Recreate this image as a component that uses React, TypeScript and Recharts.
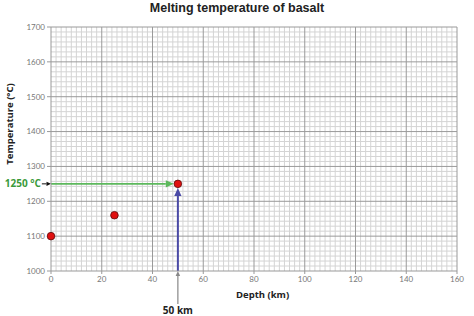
import { ScatterChart, Scatter, XAxis, YAxis, ReferenceLine } from "recharts"

const depthKm = [0, 25, 50]
const meltTempC = [1100, 1160, 1250]
const xTicks = [0, 20, 40, 60, 80, 100, 120, 140, 160]
const yTicks = [1000, 1100, 1200, 1300, 1400, 1500, 1600, 1700]
const readDepth = 50
const readTemp = 1250

const points = depthKm.map((d, i) => ({ depth: d, temp: meltTempC[i] }))

// graph-paper lines: 10 squares per 20 km, 7 squares per 100 °C
const minorX: number[] = []
for (let v = 2; v < 160; v += 2) if (v % 20 !== 0) minorX.push(v)
const minorY: number[] = []
for (let b = 1000; b < 1700; b += 100) for (let k = 1; k < 7; k++) minorY.push(b + (k * 100) / 7)

const W = 474
const H = 316

function arrowShape(color: string, width: number, head: number, label?: string, labelColor?: string) {
  return (p: any) => {
    const { x1, y1, x2, y2 } = p
    const dx = x2 - x1
    const dy = y2 - y1
    const len = Math.sqrt(dx * dx + dy * dy) || 1
    const ux = dx / len
    const uy = dy / len
    const bx = x2 - ux * head
    const by = y2 - uy * head
    const hw = head * 0.45
    const pts = `${x2},${y2} ${bx - uy * hw},${by + ux * hw} ${bx + uy * hw},${by - ux * hw}`
    return (
      <g>
        <line x1={x1} y1={y1} x2={bx} y2={by} stroke={color} strokeWidth={width} />
        <polygon points={pts} fill={color} />
        {label && dy === 0 && (
          <text x={x1 - 1} y={y1} dy={3.5} textAnchor="end" fontSize={10} fontWeight={700}
            fontFamily="'Open Sans', sans-serif" fill={labelColor}>{label}</text>
        )}
        {label && dx === 0 && (
          <text x={x1} y={y1} dy={10} textAnchor="middle" fontSize={10} fontWeight={700}
            fontFamily="'Open Sans', sans-serif" fill={labelColor}>{label}</text>
        )}
      </g>
    )
  }
}

const tickStyle = { fontSize: 8, fill: "#777", fontFamily: "Lato, sans-serif" }

export default function App() {
  return (
    <div style={{ position: "absolute", left: 0, top: 0, width: W, height: H, background: "#fff" }}>
      <div style={{ position: "absolute", left: 0, top: 1, width: W, textAlign: "center", fontFamily: "'Liberation Sans', sans-serif", fontWeight: 700, fontSize: 12.5, color: "#222" }}>
        Melting temperature of basalt
      </div>
      <div style={{ position: "absolute", left: 236, top: 288, fontFamily: "'Open Sans', sans-serif", fontWeight: 700, fontSize: 9.5, color: "#222" }}>
        Depth (km)
      </div>
      <div style={{ position: "absolute", left: 9, top: 124, transform: "translate(-50%, -50%) rotate(-90deg)", whiteSpace: "nowrap", fontFamily: "'Open Sans', sans-serif", fontWeight: 700, fontSize: 9.5, color: "#222" }}>
        Temperature (°C)
      </div>
      <ScatterChart width={W} height={H} margin={{ top: 27, right: 17, bottom: 0, left: 0 }}>
        <XAxis type="number" dataKey="depth" domain={[0, 160]} ticks={xTicks} interval={0}
          height={45} tick={tickStyle} tickSize={3} axisLine={{ stroke: "#999" }} tickLine={{ stroke: "#999" }} />
        <YAxis type="number" dataKey="temp" domain={[1000, 1700]} ticks={yTicks} interval={0}
          width={51} tick={tickStyle} tickSize={4} axisLine={{ stroke: "#999" }} tickLine={{ stroke: "#999" }} />
        {minorX.map((v) => (
          <ReferenceLine key={"mx" + v} x={v} stroke="#d4d4d4" strokeWidth={1} />
        ))}
        {minorY.map((v) => (
          <ReferenceLine key={"my" + v} y={v} stroke="#d4d4d4" strokeWidth={1} />
        ))}
        {xTicks.slice(1).map((v) => (
          <ReferenceLine key={"Mx" + v} x={v} stroke="#9a9a9a" strokeWidth={1} />
        ))}
        {yTicks.slice(1).map((v) => (
          <ReferenceLine key={"My" + v} y={v} stroke="#9a9a9a" strokeWidth={1} />
        ))}
        <ReferenceLine segment={[{ x: 0, y: readTemp }, { x: readDepth - 1.6, y: readTemp }]}
          ifOverflow="visible" shape={arrowShape("#5cb85c", 1.6, 8)} />
        <ReferenceLine segment={[{ x: readDepth, y: 1000 }, { x: readDepth, y: readTemp - 12 }]}
          ifOverflow="visible" shape={arrowShape("#4a4aa6", 2, 8)} />
        <ReferenceLine segment={[{ x: -3.6, y: readTemp }, { x: 0, y: readTemp }]}
          ifOverflow="visible" shape={arrowShape("#111", 1, 4.5, "1250 °C", "#3a9a3a")} />
        <ReferenceLine segment={[{ x: readDepth, y: 905 }, { x: readDepth, y: 1000 }]}
          ifOverflow="visible" shape={arrowShape("#888", 1.2, 5, "50 km", "#222")} />
        <Scatter data={points} isAnimationActive={false}
          shape={(p: any) => <circle cx={p.cx} cy={p.cy} r={3.8} fill="#e01010" stroke="#5a0a0a" strokeWidth={0.8} />} />
      </ScatterChart>
    </div>
  )
}
